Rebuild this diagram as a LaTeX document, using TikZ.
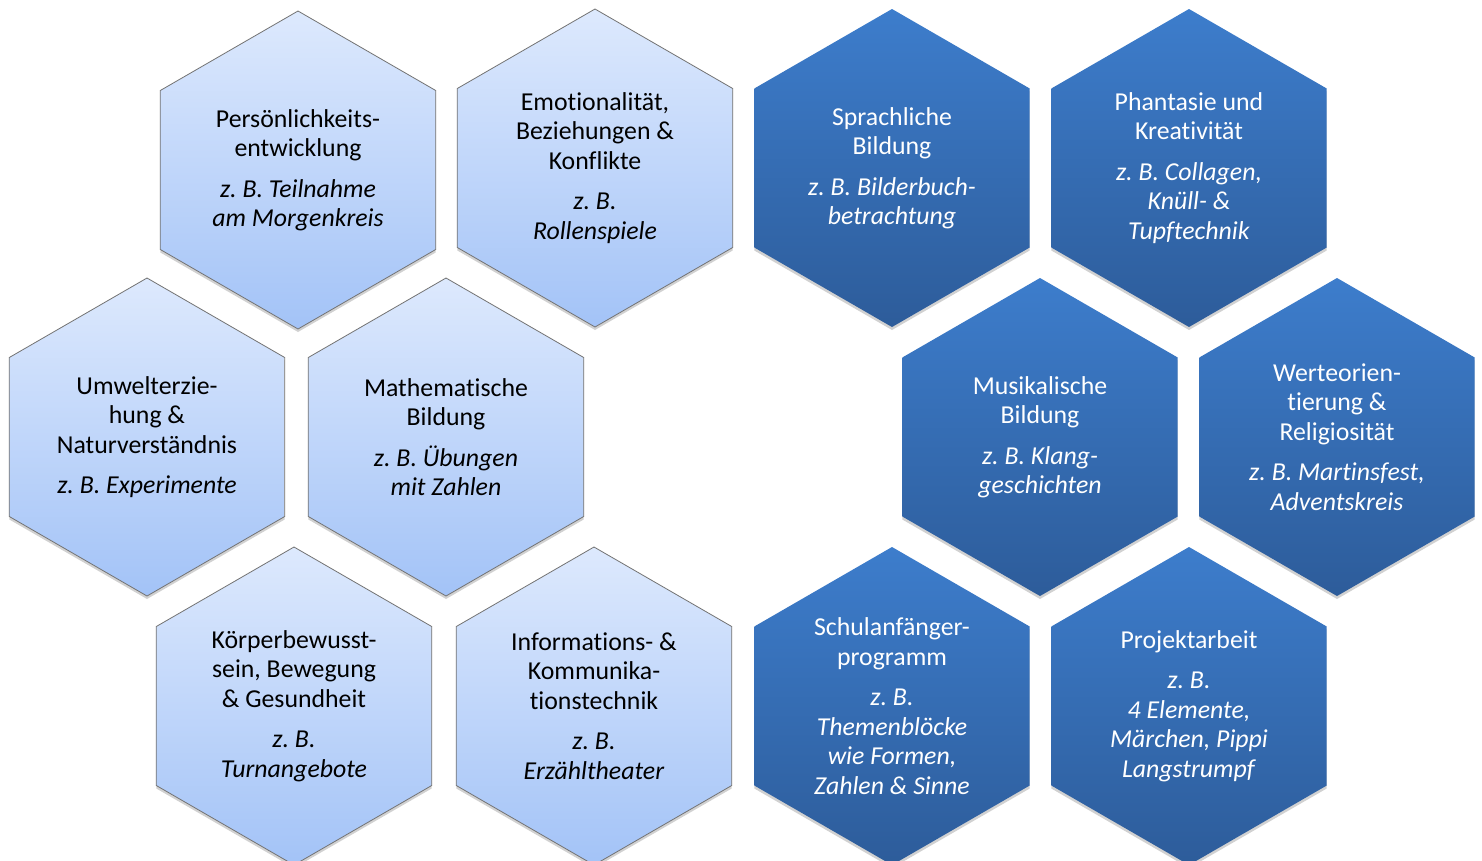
\documentclass[tikz,border=0pt]{standalone}
\usepackage{fontspec}
\setmainfont{Carlito}[Ligatures=NoCommon]
\usepackage{tikz}
\usetikzlibrary{shapes.geometric,shadows}
\frenchspacing

\definecolor{hellOben}{HTML}{DDE9FD}
\definecolor{hellUnten}{HTML}{A3C3F7}
\definecolor{dunkelOben}{HTML}{3D7DCC}
\definecolor{dunkelUnten}{HTML}{2D5C9A}

\begin{document}
\begin{tikzpicture}[x=1pt,y=-1pt,
  hexbasis/.style={regular polygon,regular polygon sides=6,shape border rotate=30,
    minimum size=318pt,inner sep=0pt,outer sep=0pt,align=center,
    font=\fontsize{25.8}{29.5}\selectfont,
    drop shadow={shadow xshift=0pt,shadow yshift=-3pt,opacity=0.18,fill=black}},
  hexhell/.style={hexbasis,draw=gray!90!black,line width=0.8pt,
    top color=hellOben,bottom color=hellUnten,text=black},
  hexdunkel/.style={hexbasis,top color=dunkelOben,bottom color=dunkelUnten,text=white}]
\useasboundingbox (0,0) rectangle (1482,860);
\fill[white] (0,0) rectangle (1482,860);
% linke Seite
\node[hexhell] (pers) at (298,170) {Persönlichkeits-\\entwicklung\\[11pt]\textit{z. B. Teilnahme}\\\textit{am Morgenkreis}};
\node[hexhell] (emo) at (595,168) {Emotionalität,\\Beziehungen \&\\Konflikte\\[11pt]\textit{z. B.}\\\textit{Rollenspiele}};
\node[hexhell] (umwelt) at (147,437) {Umwelterzie-\\hung \&\\Naturverständnis\\[11pt]\textit{z. B. Experimente}};
\node[hexhell] (mathe) at (446,437) {Mathematische\\Bildung\\[11pt]\textit{z. B. Übungen}\\\textit{mit Zahlen}};
\node[hexhell] (koerper) at (294,706) {Körperbewusst-\\sein, Bewegung\\\& Gesundheit\\[11pt]\textit{z. B.}\\\textit{Turnangebote}};
\node[hexhell] (info) at (594,706) {Informations- \&\\Kommunika-\\tionstechnik\\[11pt]\textit{z. B.}\\\textit{Erzähltheater}};
% rechte Seite
\node[hexdunkel] (sprach) at (892,168) {Sprachliche\\Bildung\\[11pt]\textit{z. B. Bilderbuch-}\\\textit{betrachtung}};
\node[hexdunkel] (phant) at (1189,168) {Phantasie und\\Kreativität\\[11pt]\textit{z. B. Collagen,}\\\textit{Knüll- \&}\\\textit{Tupftechnik}};
\node[hexdunkel] (musik) at (1040,437) {Musikalische\\Bildung\\[11pt]\textit{z. B. Klang-}\\\textit{geschichten}};
\node[hexdunkel] (werte) at (1337,437) {Werteorien-\\tierung \&\\Religiosität\\[11pt]\textit{z. B. Martinsfest,}\\\textit{Adventskreis}};
\node[hexdunkel] (schul) at (892,706) {Schulanfänger-\\programm\\[11pt]\textit{z. B.}\\\textit{Themenblöcke}\\\textit{wie Formen,}\\\textit{Zahlen \& Sinne}};
\node[hexdunkel] (projekt) at (1189,706) {Projektarbeit\\[11pt]\textit{z. B.}\\\textit{4 Elemente,}\\\textit{Märchen, Pippi}\\\textit{Langstrumpf}};
\end{tikzpicture}
\end{document}
